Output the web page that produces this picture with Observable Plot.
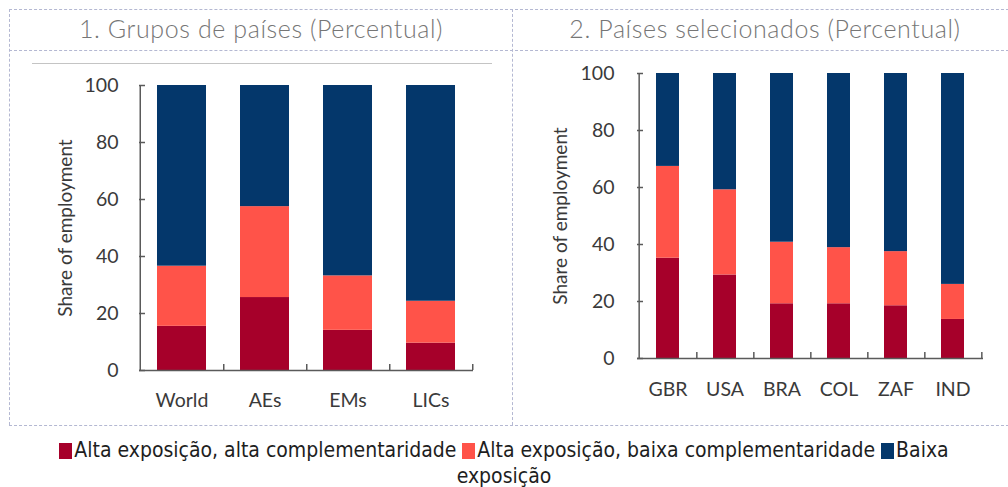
<!DOCTYPE html>
<html>
<head>
<meta charset="utf-8">
<script src="https://cdn.jsdelivr.net/npm/d3@7"></script>
<script src="https://cdn.jsdelivr.net/npm/@observablehq/plot@0.6"></script>
<style>
  html, body { margin: 0; padding: 0; background: #fff; }
  #wrap { position: relative; width: 1008px; height: 487px; overflow: hidden; background: #fff; }
  .dash-h { position: absolute; height: 0; border-top: 1px dashed #b4b8d2; }
  .dash-v { position: absolute; width: 0; border-left: 1px dashed #b4b8d2; }
  .title { position: absolute; top: 8px; height: 41px; line-height: 41px; text-align: center;
           font-family: Lato, "Open Sans", sans-serif; font-weight: 300; font-size: 25px; letter-spacing: 0.6px; color: #767676; white-space: nowrap; }
  .chart { position: absolute; top: 55px; }
  #legend { position: absolute; left: 0; top: 437px; width: 1008px; text-align: center;
            font-family: "DejaVu Sans Condensed", "DejaVu Sans", sans-serif; font-stretch: condensed;
            font-size: 21px; line-height: 26px; color: #1e1e1e; white-space: nowrap; }
  .sw { display: inline-block; width: 13px; height: 16px; vertical-align: -2px; margin-right: 2px; }
  .gline { position: absolute; left: 32px; top: 63px; width: 460px; height: 0; border-top: 1.5px solid #c4c4c4; z-index: 2; }
</style>
</head>
<body>
<div id="wrap">
  <div class="dash-h" style="left:9px; top:9px; width:1010px;"></div>
  <div class="dash-h" style="left:9px; top:50px; width:1010px;"></div>
  <div class="dash-h" style="left:9px; top:425px; width:1010px;"></div>
  <div class="dash-v" style="left:9px; top:9px; height:416px;"></div>
  <div class="dash-v" style="left:512px; top:9px; height:416px;"></div>
  <div class="title" style="left:10px; width:502px;">1. Grupos de países (Percentual)</div>
  <div class="title" style="left:513px; width:504px;">2. Países selecionados (Percentual)</div>
  <div class="gline"></div>
  <div class="chart" id="left" style="left:10px;"></div>
  <div class="chart" id="right" style="left:512px;"></div>
  <div id="legend"></div>
</div>
<script>
// ---- data ----
const seriesNames = ["Alta exposição, alta complementaridade", "Alta exposição, baixa complementaridade", "Baixa exposição"];
const seriesColors = ["#a6002a", "#ff5349", "#04376b"];

const groupCats = ["World", "AEs", "EMs", "LICs"];
const groupHighHigh = [15.5, 25.6, 14.1, 9.6];
const groupHighLow  = [21.1, 31.9, 19.1, 14.7];
const groupLow      = [63.4, 42.5, 66.8, 75.7];

const countryCats = ["GBR", "USA", "BRA", "COL", "ZAF", "IND"];
const countryHighHigh = [35.2, 29.3, 19.2, 19.2, 18.5, 13.7];
const countryHighLow  = [32.2, 29.9, 21.6, 19.7, 19.0, 12.3];
const countryLow      = [32.6, 40.8, 59.2, 61.1, 62.5, 74.0];

const yTicks = [0, 20, 40, 60, 80, 100];
const yLabel = "Share of employment";

function toLong(cats, a, b, c) {
  const out = [];
  cats.forEach((cat, i) => {
    out.push({cat, series: seriesNames[0], value: a[i]});
    out.push({cat, series: seriesNames[1], value: b[i]});
    out.push({cat, series: seriesNames[2], value: c[i]});
  });
  return out;
}

function makeChart(cats, data, opts) {
  const {width, height, ml, mr, mt, mb, padInner, labelDx, tickPad, xPad} = opts;
  const frameW = width - ml - mr;
  const step = frameW / cats.length;
  const pxPerUnit = (height - mt - mb) / 100;
  const axisColor = "#5a5a5a";
  return Plot.plot({
    width, height,
    marginLeft: ml, marginRight: mr, marginTop: mt, marginBottom: mb,
    style: {background: "transparent", fontFamily: "Lato, 'Open Sans', sans-serif", fontSize: "19.5px", color: "#3a3a3a"},
    x: {domain: cats, paddingInner: padInner, paddingOuter: padInner / 2, label: null},
    y: {domain: [0, 100], label: null},
    color: {domain: seriesNames, range: seriesColors},
    marks: [
      Plot.barY(data, {x: "cat", y: "value", fill: "series", order: seriesNames}),
      Plot.ruleY([0], {stroke: axisColor, strokeWidth: 1.5}),
      Plot.ruleX([cats[0]], {dx: -step / 2, y1: 0, y2: 100, stroke: axisColor, strokeWidth: 1.5}),
      Plot.ruleX(cats, {dx: step / 2, y1: 0, y2: 6 / pxPerUnit, stroke: axisColor, strokeWidth: 1.5}),
      Plot.ruleY(yTicks, {insetRight: frameW - 6, stroke: axisColor, strokeWidth: 1.5}),
      Plot.axisY({ticks: yTicks, tickSize: 0, tickPadding: tickPad}),
      Plot.axisX({tickSize: 0, tickPadding: xPad}),
      Plot.text([{y: 50, t: yLabel}], {y: "y", text: "t", frameAnchor: "left", textAnchor: "middle", rotate: -90, dx: labelDx, fontSize: 19, fill: "#3a3a3a"})
    ]
  });
}

document.getElementById("left").append(makeChart(groupCats,
  toLong(groupCats, groupHighHigh, groupHighLow, groupLow),
  {width: 500, height: 360, ml: 129, mr: 37, mt: 30, mb: 45, padInner: 0.41, labelDx: -74, tickPad: 21, xPad: 23}));

document.getElementById("right").append(makeChart(countryCats,
  toLong(countryCats, countryHighHigh, countryHighLow, countryLow),
  {width: 496, height: 360, ml: 125, mr: 25, mt: 18, mb: 57, padInner: 0.6, labelDx: -77, tickPad: 23, xPad: 24}));

// legend
const legend = document.getElementById("legend");
seriesNames.forEach((name, i) => {
  const sw = document.createElement("span");
  sw.className = "sw";
  sw.style.background = seriesColors[i];
  legend.append(sw);
  const t = document.createElement("span");
  if (i === 2) {
    const parts = name.split(" ");
    t.innerHTML = parts[0] + "<br>" + parts.slice(1).join(" ");
  } else {
    t.textContent = name + " ";
  }
  legend.append(t);
});
</script>
</body>
</html>
